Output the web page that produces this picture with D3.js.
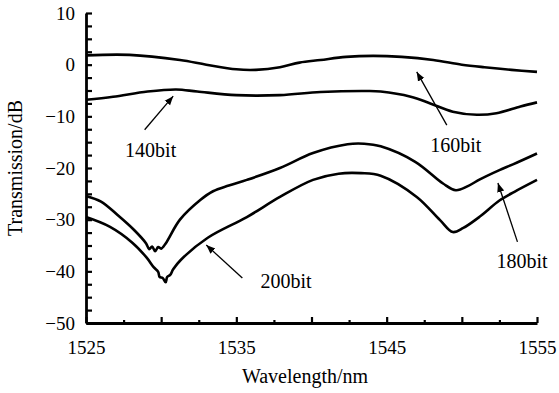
<!DOCTYPE html>
<html lang="en">
<head>
    <meta charset="UTF-8">
    <title>Transmission vs Wavelength</title>
    <script src="https://d3js.org/d3.v7.min.js"></script>
    <style>
        body { margin: 0; background: #fff; }
        text { font-family: "Liberation Serif", "Times New Roman", serif; fill: #000; }
    </style>
</head>
<body>
    <div id="chart"></div>

    <script>
        // Curves (wavelength in nm, transmission in dB)
        const wl160 = [1525, 1527.9, 1531.25, 1533, 1535, 1536.3, 1537.9, 1539.2, 1540.6, 1542.3, 1544.1, 1546, 1548.1, 1550, 1551.5, 1553.3, 1555];
        const tr160 = [1.8, 1.9, 0.9, 0.0, -0.9, -1.0, -0.5, 0.4, 0.9, 1.5, 1.7, 1.5, 0.9, 0.0, -0.5, -1.0, -1.4];

        const wl140 = [1525, 1526.8, 1529.1, 1531, 1532.4, 1535, 1537.9, 1540.6, 1543.7, 1544.6, 1546.6, 1547.9, 1549.4, 1551, 1552.3, 1553.9, 1555];
        const tr140 = [-6.8, -6.2, -5.2, -4.8, -5.2, -5.9, -5.9, -5.3, -5.1, -5.2, -6.2, -7.5, -9.1, -9.7, -9.4, -8.1, -7.3];

        const wl180 = [1525, 1526, 1527.1, 1528.2, 1529.0, 1529.2, 1529.4, 1529.6, 1529.8, 1530.0, 1530.3, 1531.25, 1532.6, 1533.45, 1534.5, 1535.7, 1537.9, 1540.1, 1542.4, 1543.5, 1544.6, 1546.9, 1548.75, 1549.6, 1550.4, 1551.2, 1552.5, 1553.4, 1555];
        const tr180 = [-25.4, -26.5, -29.1, -32.0, -34.6, -35.7, -35.2, -36.1, -35.3, -35.6, -34.6, -30.0, -26.2, -24.5, -23.4, -22.3, -20.0, -17.1, -15.4, -15.3, -15.8, -18.8, -23.0, -24.3, -23.5, -22.2, -20.4, -19.3, -17.2];

        const wl200 = [1525, 1526.6, 1528.1, 1529.05, 1529.5, 1529.8, 1529.9, 1530.1, 1530.3, 1530.4, 1530.6, 1530.8, 1531.3, 1533.1, 1535.7, 1537.9, 1540.1, 1541.8, 1543.3, 1544.6, 1547.0, 1548.55, 1549.4, 1550.1, 1551.2, 1552.5, 1553.5, 1555];
        const tr200 = [-29.5, -31.4, -34.5, -37.4, -39.2, -40.1, -41.1, -41.3, -42.1, -41.1, -40.7, -39.6, -37.8, -33.5, -29.5, -25.6, -22.3, -21.1, -21.0, -21.5, -25.6, -30.1, -32.4, -31.6, -29.4, -26.3, -24.6, -22.3];

        // Labels: text position and arrow tail / tip, in data units
        const labelNames = ["140bit", "160bit", "180bit", "200bit"];
        const labelX = [1529.3, 1549.6, 1554.0, 1538.3];
        const labelY = [-17.9, -16.9, -39.4, -43.2];
        const arrowFrom = [[1528.9, -12.6], [1549.0, -11.7], [1553.7, -34.3], [1535.4, -41.3]];
        const arrowTo = [[1530.8, -6.1], [1547.0, -1.4], [1552.4, -22.9], [1533.0, -34.9]];

        const xTicks = d3.range(1525, 1555.1, 2.5);
        const yTicks = d3.range(-50, 10.1, 2.5);
        const xLabelled = [1525, 1535, 1545, 1555];

        const margin = { top: 13, right: 22, bottom: 70, left: 86 },
            width = 559 - margin.left - margin.right,
            height = 393 - margin.top - margin.bottom;

        const svg = d3.select("#chart")
            .append("svg")
            .attr("width", 559)
            .attr("height", 393);

        const g = svg.append("g")
            .attr("transform", `translate(${margin.left},${margin.top})`);

        const x = d3.scaleLinear().domain([1525, 1555]).range([0, width]);
        const y = d3.scaleLinear().domain([-50, 10]).range([height, 0]);

        // y axis, ticks inward
        const yAxis = g.append("g")
            .call(d3.axisLeft(y)
                .tickValues(yTicks)
                .tickSize(-6)
                .tickSizeOuter(0)
                .tickPadding(11)
                .tickFormat(d => d % 10 === 0 ? d3.format("d")(d) : ""));
        yAxis.selectAll("text").style("font-size", "19px");

        // x axis, ticks inward (major every 5 nm)
        const xAxis = g.append("g")
            .attr("transform", `translate(0,${height})`)
            .call(d3.axisBottom(x)
                .tickValues(xTicks)
                .tickSize(-6)
                .tickSizeOuter(0)
                .tickPadding(18)
                .tickFormat(d => xLabelled.includes(d) ? d : ""));
        xAxis.selectAll(".tick line")
            .attr("y2", d => d % 5 === 0 ? -6 : -3);
        xAxis.selectAll("text").style("font-size", "19px");

        [xAxis, yAxis].forEach(a => {
            a.select(".domain").attr("stroke", "#000").attr("stroke-width", 2.8);
            a.selectAll(".tick line").attr("stroke", "#000").attr("stroke-width", 2.2);
        });

        // axis titles
        g.append("text")
            .attr("x", 219)
            .attr("y", height + 60)
            .attr("text-anchor", "middle")
            .style("font-size", "20px")
            .text("Wavelength/nm");

        g.append("text")
            .attr("transform", `translate(${22 - margin.left},${168 - margin.top}) rotate(-90)`)
            .attr("text-anchor", "middle")
            .style("font-size", "20px")
            .text("Transmission/dB");

        // curves
        const line = d3.line()
            .x(d => x(d[0]))
            .y(d => y(d[1]))
            .curve(d3.curveCatmullRom.alpha(0.5));

        const series = [
            [wl160, tr160],
            [wl140, tr140],
            [wl180, tr180],
            [wl200, tr200]
        ];

        g.selectAll(".curve")
            .data(series)
            .join("path")
            .attr("class", "curve")
            .attr("fill", "none")
            .attr("stroke", "#000")
            .attr("stroke-width", 2.6)
            .attr("stroke-linejoin", "round")
            .attr("d", s => line(s[0].map((w, i) => [w, s[1][i]])));

        // arrows and labels
        svg.append("defs").append("marker")
            .attr("id", "head")
            .attr("viewBox", "0 0 10 10")
            .attr("refX", 10)
            .attr("refY", 5)
            .attr("markerWidth", 9)
            .attr("markerHeight", 9)
            .attr("markerUnits", "userSpaceOnUse")
            .attr("orient", "auto")
            .append("path")
            .attr("d", "M0,1 L10,5 L0,9 Z")
            .attr("fill", "#000");

        labelNames.forEach((name, i) => {
            g.append("line")
                .attr("x1", x(arrowFrom[i][0]))
                .attr("y1", y(arrowFrom[i][1]))
                .attr("x2", x(arrowTo[i][0]))
                .attr("y2", y(arrowTo[i][1]))
                .attr("stroke", "#000")
                .attr("stroke-width", 1.3)
                .attr("marker-end", "url(#head)");

            g.append("text")
                .attr("x", x(labelX[i]))
                .attr("y", y(labelY[i]))
                .attr("text-anchor", "middle")
                .style("font-size", "20px")
                .text(name);
        });
    </script>
</body>
</html>
